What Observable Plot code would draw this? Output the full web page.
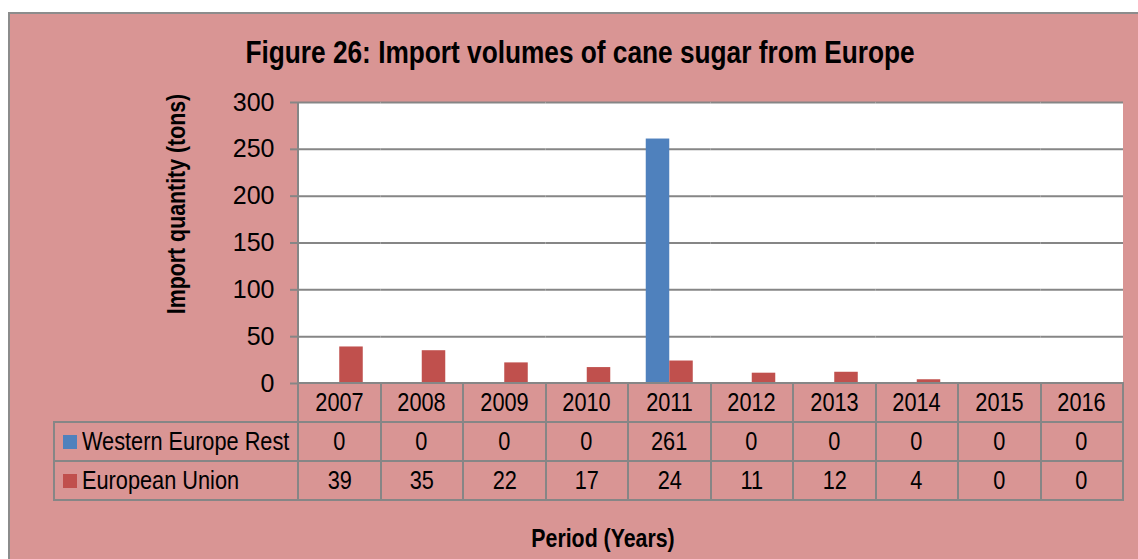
<!DOCTYPE html>
<html>
<head>
<meta charset="utf-8">
<script src="https://cdn.jsdelivr.net/npm/d3@7"></script>
<script src="https://cdn.jsdelivr.net/npm/@observablehq/plot@0.6"></script>
<style>
  html, body { margin: 0; padding: 0; background: #ffffff; }
  body { width: 1138px; height: 559px; position: relative; overflow: hidden;
         font-family: "Liberation Sans", Arial, sans-serif; color: #000; }
  .abs { position: absolute; }
  .n { display: inline-block; transform: scaleX(0.82); }
  #frame { left: 8px; top: 12px; width: 1140px; height: 560px; background: #D99594;
           border-left: 2px solid #8c8c8c; border-top: 2px solid #8c8c8c; }
  #title { left: 0; width: 1160px; top: 32px; text-align: center; font-weight: bold; font-size: 32px; line-height: 40px; white-space: nowrap; }
  #ylabel { font-weight: bold; font-size: 26px; line-height: 30px; white-space: nowrap;
            transform: translate(-50%, -50%) rotate(-90deg) scaleX(0.82); }
  #xlabel { font-weight: bold; font-size: 26px; line-height: 30px; white-space: nowrap; transform: translate(-50%, -50%) scaleX(0.82); }
  .line { background: #868686; }
  .cell { display: flex; align-items: center; justify-content: center; font-size: 26.5px; white-space: nowrap; }
  .leg { display: flex; align-items: center; font-size: 26.5px; white-space: nowrap; }
  .leg .n { transform-origin: left center; }
  .sw { width: 14px; height: 14px; margin-right: 5px; flex: none; }
</style>
</head>
<body>
<div id="frame" class="abs"></div>
<div id="title" class="abs"><span class="n">Figure 26: Import volumes of cane sugar from Europe</span></div>
<div id="plotbg" class="abs"></div>
<div id="chart" class="abs" style="left:0;top:0"></div>
<div id="table"></div>
<div id="ylabel" class="abs">Import quantity (tons)</div>
<div id="xlabel" class="abs">Period (Years)</div>
<script>
// ---- data ----
const years = ["2007","2008","2009","2010","2011","2012","2013","2014","2015","2016"];
const seriesNames = ["Western Europe Rest", "European Union"];
const westernEuropeRest = [0, 0, 0, 0, 261, 0, 0, 0, 0, 0];
const europeanUnion = [39, 35, 22, 17, 24, 11, 12, 4, 0, 0];
const seriesColors = ["#4F81BD", "#C0504D"];
const yTicks = [0, 50, 100, 150, 200, 250, 300];

// ---- layout ----
const W = 1138;
const L = 298, R = 1123, T = 102, B = 383;
const rowH = 39;
const legendLeft = 54;
const grid = "#868686";
const FONT = '"Liberation Sans", Arial, sans-serif';

const rows = [];
years.forEach((y, i) => {
  rows.push({year: y, series: seriesNames[0], value: westernEuropeRest[i]});
  rows.push({year: y, series: seriesNames[1], value: europeanUnion[i]});
});

// white plot background
const bg = document.getElementById("plotbg");
Object.assign(bg.style, {left: L + "px", top: T + "px", width: (R - L) + "px", height: (B - T) + "px", background: "#fff"});

const chart = Plot.plot({
  width: W, height: B + 7,
  marginLeft: L, marginRight: W - R, marginTop: T, marginBottom: 7,
  style: {background: "transparent", overflow: "visible", fontFamily: FONT, fontSize: "25px", color: "#000"},
  fx: {domain: years, padding: 0, round: false, axis: null},
  x: {domain: seriesNames, paddingInner: 0, paddingOuter: 0.755, round: false, axis: null},
  y: {domain: [0, 300], axis: null},
  color: {domain: seriesNames, range: seriesColors},
  marks: [
    Plot.ruleY(yTicks.filter(d => d > 0), {stroke: grid, strokeWidth: 2}),
    Plot.barY(rows, {fx: "year", x: "series", y: "value", fill: "series"}),
    Plot.axisY({ticks: yTicks, tickSize: 8, tickPadding: 16, stroke: grid, strokeWidth: 2, fill: "#000", fontSize: 25, label: null})
  ]
});
document.getElementById("chart").appendChild(chart);

// ---- data table under the chart ----
const tbl = document.getElementById("table");
const step = (R - L) / years.length;
function line(x, y, w, h) {
  const d = document.createElement("div");
  d.className = "abs line";
  Object.assign(d.style, {left: x + "px", top: y + "px", width: w + "px", height: h + "px"});
  tbl.appendChild(d);
}
const tBottom = B + 3 * rowH;
line(L - 1, B - 1, R - L + 2, 2);
for (let r = 1; r <= 3; r++) line(legendLeft - 1, B + r * rowH - 1, R - legendLeft + 2, 2);
line(L - 1, T, 2, tBottom - T + 1);
line(legendLeft - 1, B + rowH - 1, 2, 2 * rowH + 2);
for (let i = 1; i <= years.length; i++) line(L + i * step - 1, B - 1, 2, 3 * rowH + 2);

function cell(text, x, y, w, h) {
  const d = document.createElement("div");
  d.className = "abs cell";
  Object.assign(d.style, {left: x + "px", top: y + "px", width: w + "px", height: h + "px"});
  const s = document.createElement("span");
  s.className = "n";
  s.textContent = text;
  d.appendChild(s);
  tbl.appendChild(d);
}
years.forEach((y, i) => cell(y, L + i * step, B, step, rowH));
const seriesValues = [westernEuropeRest, europeanUnion];
seriesNames.forEach((s, r) => {
  const top = B + (r + 1) * rowH;
  const lg = document.createElement("div");
  lg.className = "abs leg";
  Object.assign(lg.style, {left: (legendLeft + 9) + "px", top: top + "px", height: rowH + "px"});
  const sw = document.createElement("span");
  sw.className = "sw";
  sw.style.background = seriesColors[r];
  lg.appendChild(sw);
  const t = document.createElement("span");
  t.className = "n";
  t.textContent = s;
  lg.appendChild(t);
  tbl.appendChild(lg);
  seriesValues[r].forEach((v, i) => cell(String(v), L + i * step, top, step, rowH));
});

const yl = document.getElementById("ylabel");
yl.style.left = "176px"; yl.style.top = "204px";
const xl = document.getElementById("xlabel");
xl.style.left = "603px"; xl.style.top = "538px";
</script>
</body>
</html>
